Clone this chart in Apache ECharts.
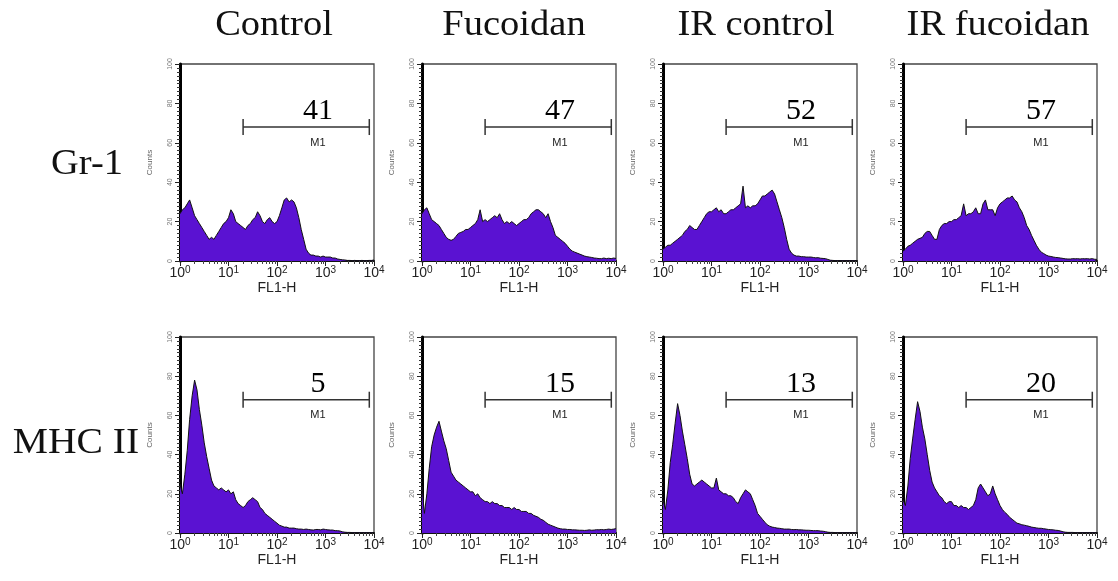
<!DOCTYPE html>
<html>
<head>
<meta charset="utf-8">
<script src="https://cdn.jsdelivr.net/npm/echarts@6/dist/echarts.min.js"></script>
<style>
  html, body { margin: 0; padding: 0; background: #fff; }
  #chart { width: 1118px; height: 581px; }
</style>
</head>
<body>
<div id="chart"></div>
<script>
// column / row headings
const columns = ['Control', 'Fucoidan', 'IR control', 'IR fucoidan'];
const rows = ['Gr-1', 'MHC II'];

// FL1-H bin centres (0.05 decade apart)
const bins = [
  1, 1.12, 1.26, 1.41, 1.58, 1.78, 2.0, 2.24, 2.51, 2.82, 3.16, 3.55, 3.98, 4.47, 5.01, 5.62, 6.31, 7.08, 7.94, 8.91,
  10, 11.2, 12.6, 14.1, 15.8, 17.8, 20.0, 22.4, 25.1, 28.2, 31.6, 35.5, 39.8, 44.7, 50.1, 56.2, 63.1, 70.8, 79.4, 89.1,
  100, 112, 126, 141, 158, 178, 200, 224, 251, 282, 316, 355, 398, 447, 501, 562, 631, 708, 794, 891,
  1000, 1120, 1260, 1410, 1580, 1780, 2000, 2240, 2510, 2820, 3160, 3550, 3980, 4470, 5010, 5620, 6310, 7080, 7940, 8910,
  10000
];

// counts, Gr-1 row
const gr1Control = [
  24, 26, 27, 29, 31, 27, 23, 21, 19, 17,
  15, 13, 11, 12, 11, 13, 15, 17, 19, 20,
  22, 26, 24, 20, 19, 18, 17, 16, 18, 19,
  21, 22, 25, 23, 20, 19, 21, 22, 20, 19,
  20, 23, 27, 31, 32, 30, 31, 30, 27, 22,
  16, 11, 6, 4, 3, 3, 2.5, 2.5, 2, 2.5,
  2, 2, 2, 1.5, 1.5, 1, 0.8, 0.6, 0.5, 0.3,
  0.3, 0.2, 0.3, 0.2, 0.2, 0.3, 0.2, 0.2, 0.3, 0.3, 0.5
];
const gr1Fucoidan = [
  24, 26, 27, 24, 21, 20, 19, 18, 16, 14,
  12, 11, 10.5, 11, 12.5, 14, 14.5, 15, 16, 16,
  17, 18, 19, 21, 26, 20, 21, 20, 21, 22,
  23, 22, 24, 21, 19, 20, 19, 20, 19, 18,
  19, 20, 21, 21, 22, 24, 25, 26, 26, 25,
  24, 22, 24, 20, 17, 13, 12, 11, 10, 9,
  7.5, 6, 5, 4.5, 4, 3.5, 3, 2.5, 2.2, 2,
  1.8, 1.5, 1.4, 1.2, 1.2, 1.5, 1.2, 1.4, 1.2, 1.5, 1.3
];
const gr1IrControl = [
  6, 7, 8, 8, 9, 10, 11, 12, 13, 15,
  16, 18, 17, 16, 16, 18, 20, 22, 24, 25,
  25, 26, 27, 25, 26, 24, 24, 25, 26, 26,
  27, 28, 29, 38, 27, 28, 27, 28, 28, 29,
  31, 33, 33, 34, 35, 36, 34, 30, 26, 22,
  17, 11, 6, 4, 3, 2.5, 2.5, 2.2, 2.2, 2,
  2, 2, 1.8, 1.6, 1.7, 1.4, 1.3, 1.2, 0.8, 0.4,
  0.3, 0.2, 0.2, 0.2, 0.2, 0.2, 0.2, 0.2, 0.2, 0.2, 0.2
];
const gr1IrFucoidan = [
  5, 6, 7.5, 8, 9, 10, 11, 11.5, 12, 14,
  15, 15, 13, 11, 11, 16, 18, 19, 19, 20,
  20, 21, 21, 22, 23, 29, 23, 24, 24, 25,
  27, 24, 24, 29, 31, 26, 26, 26, 23, 27,
  29, 30, 31, 32, 32, 33, 31, 30, 27, 25,
  22, 18, 16, 13, 10.5, 8, 6, 4.5, 3.8, 3,
  2.5, 2.3, 2, 1.8, 1.7, 1.5, 1.3, 1.1, 1, 1,
  1.2, 1.1, 1.2, 1, 1.2, 1.1, 1.2, 1, 1.2, 0.9, 0.8
];

// counts, MHC II row
const mhcControl = [
  25, 20, 30, 42, 58, 70, 78, 73, 63, 55,
  46, 39, 33, 27, 24, 23, 22, 23, 22, 21,
  22, 20, 21, 17, 15, 14, 13, 14, 16, 17,
  18, 17, 16, 13, 12, 10, 9, 8, 7, 6,
  5, 4, 3.5, 3, 3, 2.5, 2.5, 2.5, 2.2, 2,
  2, 1.8, 2, 1.8, 1.6, 1.5, 1.8, 1.8, 1.6, 2,
  1.8, 1.6, 1.5, 1.5, 1.2, 1.2, 1, 0.6, 0.4, 0.3,
  0.3, 0.2, 0.2, 0.2, 0.2, 0.2, 0.2, 0.2, 0.2, 0.2, 0.2
];
const mhcFucoidan = [
  24, 10, 20, 33, 44, 50, 54, 57, 52, 47,
  43, 37, 31, 29, 27, 26, 25, 24, 23, 22,
  21, 21, 19, 20, 18, 17, 16, 16, 15, 16,
  15, 15, 14, 14, 13, 13, 13, 12, 13, 12,
  12, 11, 11, 11, 10, 10, 9, 8.5, 8, 7,
  6.5, 5.5, 4.5, 4, 3.5, 3, 2.5, 2.2, 2, 2,
  1.8, 1.8, 1.6, 1.6, 1.5, 1.4, 1.4, 1.3, 1.4, 1.6,
  1.4, 1.5, 1.7, 1.6, 1.8, 1.6, 1.8, 2, 1.8, 2, 2.2
];
const mhcIrControl = [
  17, 12, 22, 36, 45, 56, 66, 60, 52, 45,
  38, 30, 25, 24, 25, 26, 27, 26, 25, 24,
  23, 23, 28, 22, 21, 20, 20, 19, 19, 18,
  16, 15, 18, 20, 22, 21, 20, 17, 14, 10,
  8.5, 7, 5.5, 4.2, 3.5, 3, 2.8, 2.5, 2.4, 2.2,
  2, 2, 2, 1.8, 1.7, 1.8, 1.6, 1.6, 1.5, 1.4,
  1.4, 1.3, 1.2, 1.2, 1.2, 1, 0.9, 0.7, 0.4, 0.3,
  0.3, 0.2, 0.2, 0.2, 0.2, 0.2, 0.2, 0.2, 0.2, 0.2, 0.2
];
const mhcIrFucoidan = [
  17, 14, 24, 38, 48, 58, 67, 62, 54, 48,
  40, 32, 26, 23, 21, 19, 18, 16, 15, 16,
  16, 14, 14, 13, 14, 13, 13, 12, 13, 14,
  17, 23, 25, 23, 21, 19, 20, 24, 20, 17,
  14, 12, 10.5, 9.5, 8, 7, 6, 5, 4.7, 4.2,
  4, 3.7, 3.4, 3, 2.8, 2.6, 2.4, 2.4, 2.2, 2,
  1.8, 1.7, 1.6, 1.4, 1.3, 1, 0.6, 0.4, 0.3, 0.3,
  0.3, 0.2, 0.2, 0.2, 0.2, 0.2, 0.2, 0.2, 0.2, 0.2, 0.2
];

// M1 gate percentages and gate range
const gr1Percent = [41, 47, 52, 57];
const mhcPercent = [5, 15, 13, 20];
const m1Range = [20, 8000];
const m1Level = 68;
const yTicks = [0, 20, 40, 60, 80, 100];

const panels = [
  { data: gr1Control, pct: gr1Percent[0] },
  { data: gr1Fucoidan, pct: gr1Percent[1] },
  { data: gr1IrControl, pct: gr1Percent[2] },
  { data: gr1IrFucoidan, pct: gr1Percent[3] },
  { data: mhcControl, pct: mhcPercent[0] },
  { data: mhcFucoidan, pct: mhcPercent[1] },
  { data: mhcIrControl, pct: mhcPercent[2] },
  { data: mhcIrFucoidan, pct: mhcPercent[3] },
];

// layout
const lefts = [180, 422, 663, 903];
const tops = [64, 337];
const colCenters = [274, 514, 756, 998];
const serif = '"Liberation Serif", "Times New Roman", serif';
const sans = '"Liberation Sans", Arial, sans-serif';
const fill = '#5a12d2';

const chart = echarts.init(document.getElementById('chart'));

const grid = [], xAxis = [], yAxis = [], series = [];
panels.forEach((p, i) => {
  const col = i % 4, row = Math.floor(i / 4);
  grid.push({
    left: lefts[col], top: tops[row], width: 194, height: row === 0 ? 197 : 196,
    show: true, borderColor: '#444', borderWidth: 1.3, backgroundColor: 'transparent'
  });
  xAxis.push({
    gridIndex: i, type: 'log', logBase: 10, min: 1, max: 10000,
    name: 'FL1-H', nameLocation: 'middle', nameGap: 20,
    nameTextStyle: { fontSize: 14, fontFamily: sans, color: '#222' },
    axisLine: { onZero: false, lineStyle: { color: '#111', width: 2 } },
    axisTick: { show: true, length: 5, lineStyle: { color: '#222' } },
    minorTick: { show: true, splitNumber: 9, length: 3, lineStyle: { color: '#444' } },
    splitLine: { show: false },
    axisLabel: {
      margin: 4,
      formatter: v => '{b|10}{s|' + Math.round(Math.log10(v)) + '}',
      rich: {
        b: { fontSize: 14, fontFamily: sans, color: '#222', lineHeight: 16 },
        s: { fontSize: 10, fontFamily: sans, color: '#222', lineHeight: 16, verticalAlign: 'top' }
      }
    }
  });
  yAxis.push({
    gridIndex: i, type: 'value', min: 0, max: 100, interval: 20,
    name: 'Counts', nameLocation: 'middle', nameGap: 26, nameRotate: 90,
    nameTextStyle: { fontSize: 8, fontFamily: sans, color: '#666' },
    axisLine: { show: true, lineStyle: { color: '#000', width: 3 } },
    axisTick: { show: true, length: 5, lineStyle: { color: '#222' } },
    minorTick: { show: true, splitNumber: 10, length: 3, lineStyle: { color: '#333' } },
    splitLine: { show: false },
    axisLabel: {
      rotate: 90, fontSize: 7, fontFamily: sans, color: '#777', margin: 6,
      formatter: v => yTicks.includes(v) ? String(v) : ''
    }
  });
  // histogram
  series.push({
    type: 'line', xAxisIndex: i, yAxisIndex: i,
    data: bins.map((b, k) => [b, p.data[k]]),
    symbol: 'none', smooth: false,
    lineStyle: { color: '#111', width: 1 },
    areaStyle: { color: fill, opacity: 1 },
    z: 2
  });
  // M1 gate bar
  series.push({
    type: 'line', xAxisIndex: i, yAxisIndex: i,
    data: [[m1Range[0], m1Level], [m1Range[1], m1Level]],
    symbol: 'rect', symbolSize: [1.5, 16], showSymbol: true,
    itemStyle: { color: '#333' },
    lineStyle: { color: '#333', width: 1.5 },
    z: 3
  });
  // percentage and gate name
  series.push({
    type: 'scatter', xAxisIndex: i, yAxisIndex: i,
    symbolSize: 0,
    itemStyle: { opacity: 1 },
    label: {
      show: true, position: 'inside',
      formatter: d => d.value[2],
      fontFamily: serif, fontSize: 30, color: '#000'
    },
    data: [
      { value: [700, 76, String(p.pct)] },
      { value: [700, 60, 'M1'], label: { fontFamily: sans, fontSize: 11, color: '#222' } }
    ],
    z: 4
  });
});

const graphic = [];
const headText = (text, x, y, sx) => ({
  type: 'text', x, y, scaleX: sx,
  style: { text, fontFamily: serif, fontSize: 35, fill: '#111', align: 'center', verticalAlign: 'middle' }
});
columns.forEach((c, j) => graphic.push(headText(c, colCenters[j], 26, 1.1)));
graphic.push(headText(rows[0], 87, 165, 1.1));
graphic.push(headText(rows[1], 76, 444, 1.13));

chart.setOption({
  animation: false,
  backgroundColor: '#fff',
  grid, xAxis, yAxis, series, graphic
});
</script>
</body>
</html>
